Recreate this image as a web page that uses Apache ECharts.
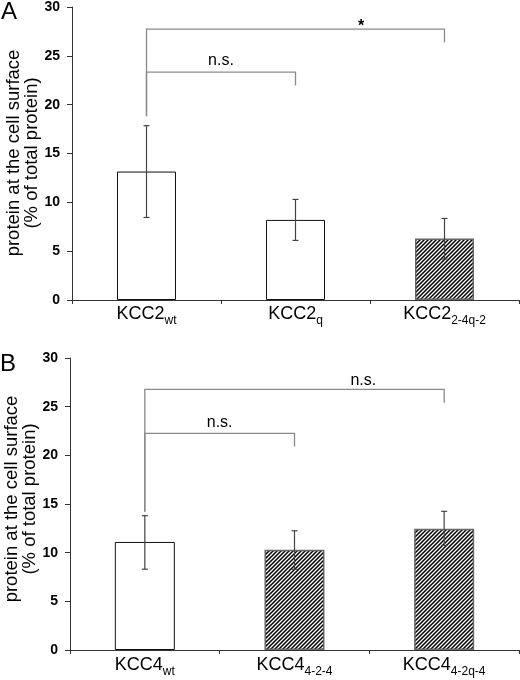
<!DOCTYPE html>
<html>
<head>
<meta charset="utf-8">
<script src="https://cdn.jsdelivr.net/npm/echarts@6/dist/echarts.min.js"></script>
<style>html,body{margin:0;padding:0;background:#fff}#c{width:520px;height:680px}</style>
</head>
<body>
<div id="c"></div>
<script>
// ---- data ----
const categoriesA = ['KCC2_wt', 'KCC2_q', 'KCC2_2-4q-2'];
const valuesA = [13.15, 8.2, 6.3];
const errLowA = [8.45, 6.1, 4.2];
const errHighA = [17.85, 10.3, 8.35];
const hatchedA = [false, false, true];

const categoriesB = ['KCC4_wt', 'KCC4_4-2-4', 'KCC4_4-2q-4'];
const valuesB = [11.1, 10.3, 12.45];
const errLowB = [8.3, 8.3, 10.75];
const errHighB = [13.8, 12.25, 14.25];
const hatchedB = [false, true, true];

const yTicks = [0, 5, 10, 15, 20, 25, 30];

// brackets: [fromCat, toCat, y, leftStemEnd, rightStemEnd, label]
const bracketsA = [[0, 1, 23.33, 18.82, 21.97, 'n.s.'], [0, 2, 27.74, 18.82, 26.38, '*']];
const bracketsB = [[0, 1, 22.25, 14.2, 20.9, 'n.s.'], [0, 2, 26.77, 14.2, 25.39, 'n.s.']];

// ---- styling helpers ----
const bracketLabelA = [{t: 0.5, gap: 11.5, size: 16, weight: 'normal'}, {t: 0.72, gap: 2, size: 16, weight: 'bold'}];
const bracketLabelB = [{t: 0.5, gap: 10.5, size: 16, weight: 'normal'}, {t: 0.73, gap: 8.5, size: 16, weight: 'normal'}];
const FONT = '"Liberation Sans", Arial, sans-serif';

function hatchCanvas() {
  const c = document.createElement('canvas');
  c.width = 4; c.height = 4;
  const g = c.getContext('2d');
  g.fillStyle = '#fff'; g.fillRect(0, 0, 4, 4);
  g.strokeStyle = '#000'; g.lineWidth = 1.5;
  g.beginPath();
  g.moveTo(-1, 5); g.lineTo(5, -1);
  g.moveTo(-1, 1); g.lineTo(1, -1);
  g.moveTo(3, 5); g.lineTo(5, 3);
  g.stroke();
  return c;
}
const pattern = {image: hatchCanvas(), repeat: 'repeat'};

function barData(values, hatched) {
  return values.map((v, i) => ({
    value: v,
    itemStyle: hatched[i]
      ? {color: pattern, borderColor: '#666', borderWidth: 1.5}
      : {color: '#fff', borderColor: '#111', borderWidth: 1}
  }));
}

function errRender(params, api) {
  const i = api.value(0);
  const lo = api.coord([i, api.value(1)]);
  const hi = api.coord([i, api.value(2)]);
  const x = lo[0], w = 3;
  const st = {stroke: '#444', lineWidth: 1.2};
  return {type: 'group', children: [
    {type: 'line', shape: {x1: x, y1: lo[1], x2: x, y2: hi[1]}, style: st},
    {type: 'line', shape: {x1: x - w, y1: lo[1], x2: x + w, y2: lo[1]}, style: st},
    {type: 'line', shape: {x1: x - w, y1: hi[1], x2: x + w, y2: hi[1]}, style: st}
  ]};
}

function bracketRender(brackets, labels) {
  return function (params, api) {
    const b = brackets[params.dataIndex];
    const L = labels[params.dataIndex];
    const p0 = api.coord([b[0], b[2]]);
    const p1 = api.coord([b[1], b[2]]);
    const l = api.coord([b[0], b[3]]);
    const r = api.coord([b[1], b[4]]);
    return {type: 'group', children: [
      {type: 'polyline', shape: {points: [[p0[0], l[1]], [p0[0], p0[1]], [p1[0], p1[1]], [p1[0], r[1]]]},
        style: {stroke: '#8a8a8a', lineWidth: 1.3, fill: null}},
      {type: 'text', x: p0[0] + L.t * (p1[0] - p0[0]), y: p0[1] - L.gap,
        style: {text: b[5], font: L.weight + ' ' + L.size + 'px ' + FONT, fill: '#000', align: 'center', verticalAlign: 'middle'}}
    ]};
  };
}

function xAxisCfg(gridIndex, cats, margin) {
  return {
    type: 'category', gridIndex: gridIndex, data: cats,
    axisLine: {lineStyle: {color: '#333', width: 1}},
    axisTick: {show: true, length: 4, interval: 0, lineStyle: {color: '#333'}},
    axisLabel: {
      interval: 0, margin: margin,
      formatter: v => { const k = v.indexOf('_'); return '{m|' + v.slice(0, k) + '}{s|' + v.slice(k + 1) + '}'; },
      rich: {
        m: {fontSize: 18, fontFamily: FONT, color: '#000', lineHeight: 21, verticalAlign: 'top'},
        s: {fontSize: 12, fontFamily: FONT, color: '#000', lineHeight: 13, padding: [10, 0, 0, 0], verticalAlign: 'top'}
      }
    }
  };
}

function yAxisCfg(gridIndex) {
  return {
    type: 'value', gridIndex: gridIndex, min: yTicks[0], max: yTicks[yTicks.length - 1],
    interval: yTicks[1] - yTicks[0],
    splitLine: {show: false},
    axisLine: {show: true, lineStyle: {color: '#333', width: 1}},
    axisTick: {show: true, length: 5, lineStyle: {color: '#333'}},
    axisLabel: {margin: 12, fontSize: 14, fontWeight: 'bold', fontFamily: FONT, color: '#000'}
  };
}

const TITLE_FONT = '18.5px ' + FONT;
const chart = echarts.init(document.getElementById('c'), null, {renderer: 'canvas'});
chart.setOption({
  animation: false,
  backgroundColor: '#fff',
  grid: [
    {left: 72, top: 5, width: 447, height: 295},
    {left: 70, top: 358, width: 449, height: 292}
  ],
  xAxis: [xAxisCfg(0, categoriesA, 5), xAxisCfg(1, categoriesB, 6)],
  yAxis: [yAxisCfg(0), yAxisCfg(1)],
  graphic: [
    {type: 'text', x: 9, y: 12, style: {text: 'A', font: '24px ' + FONT, fill: '#000', align: 'center', verticalAlign: 'middle'}},
    {type: 'text', x: 8, y: 364, style: {text: 'B', font: '24px ' + FONT, fill: '#000', align: 'center', verticalAlign: 'middle'}},
    {type: 'text', x: 14, y: 153, rotation: Math.PI / 2, style: {text: 'protein at the cell surface', font: TITLE_FONT, fill: '#000', align: 'center', verticalAlign: 'middle'}},
    {type: 'text', x: 32, y: 153, rotation: Math.PI / 2, style: {text: '(% of total protein)', font: TITLE_FONT, fill: '#000', align: 'center', verticalAlign: 'middle'}},
    {type: 'text', x: 12, y: 499, rotation: Math.PI / 2, style: {text: 'protein at the cell surface', font: TITLE_FONT, fill: '#000', align: 'center', verticalAlign: 'middle'}},
    {type: 'text', x: 30, y: 499, rotation: Math.PI / 2, style: {text: '(% of total protein)', font: TITLE_FONT, fill: '#000', align: 'center', verticalAlign: 'middle'}}
  ],
  series: [
    {type: 'bar', xAxisIndex: 0, yAxisIndex: 0, barWidth: 59, data: barData(valuesA, hatchedA)},
    {type: 'custom', xAxisIndex: 0, yAxisIndex: 0, clip: false, z: 5, renderItem: errRender,
      encode: {x: 0, y: [1, 2]}, data: valuesA.map((v, i) => [i, errLowA[i], errHighA[i]])},
    {type: 'custom', xAxisIndex: 0, yAxisIndex: 0, clip: false, z: 5, renderItem: bracketRender(bracketsA, bracketLabelA),
      encode: {x: 0, y: 1}, data: bracketsA.map(b => [b[0], b[2]])},
    {type: 'bar', xAxisIndex: 1, yAxisIndex: 1, barWidth: 60, data: barData(valuesB, hatchedB)},
    {type: 'custom', xAxisIndex: 1, yAxisIndex: 1, clip: false, z: 5, renderItem: errRender,
      encode: {x: 0, y: [1, 2]}, data: valuesB.map((v, i) => [i, errLowB[i], errHighB[i]])},
    {type: 'custom', xAxisIndex: 1, yAxisIndex: 1, clip: false, z: 5, renderItem: bracketRender(bracketsB, bracketLabelB),
      encode: {x: 0, y: 1}, data: bracketsB.map(b => [b[0], b[2]])}
  ]
});
</script>
</body>
</html>
